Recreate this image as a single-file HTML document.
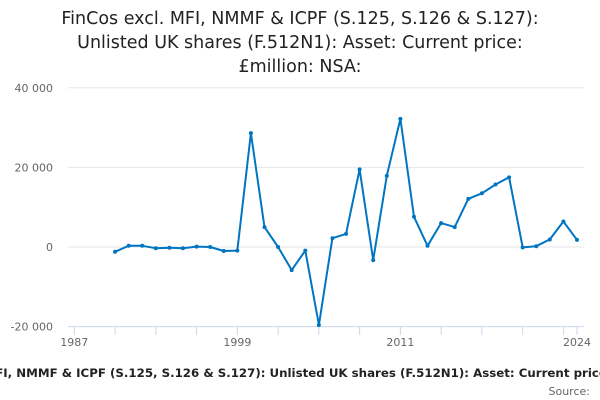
<!DOCTYPE html>
<html><head><meta charset="utf-8"><style>
body{margin:0;background:#fff;}
svg{display:block;font-family:"DejaVu Sans","Liberation Sans",sans-serif;}
</style></head><body>
<svg id="chart" width="600" height="400">
<g font-size="17.5" fill="#222" text-anchor="middle">
<text x="300" y="24">FinCos excl. MFI, NMMF &amp; ICPF (S.125, S.126 &amp; S.127):</text>
<text x="300" y="48">Unlisted UK shares (F.512N1): Asset: Current price:</text>
<text x="300" y="72">£million: NSA:</text>
</g>
<g id="grid"></g>
<g id="yticks"></g>
<g id="xticks"></g>
<path id="line" fill="none" stroke="#0075c2" stroke-width="2" stroke-linejoin="round"></path>
<g id="points"></g>
<text x="305" y="377" text-anchor="middle" font-size="11.8" font-weight="bold" fill="#222">FinCos excl. MFI, NMMF &amp; ICPF (S.125, S.126 &amp; S.127): Unlisted UK shares (F.512N1): Asset: Current price: £million: NSA:</text>
<text x="590" y="395" text-anchor="end" font-size="11" fill="#666">Source:</text>
</svg>
<script>
const years = [1990,1991,1992,1993,1994,1995,1996,1997,1998,1999,2000,2001,2002,2003,2004,2005,2006,2007,2008,2009,2010,2011,2012,2013,2014,2015,2016,2017,2018,2019,2020,2021,2022,2023,2024];
const values = [-1200,300,300,-300,-200,-300,100,0,-1000,-900,28600,5000,0,-5800,-900,-19600,2200,3300,19500,-3300,17900,32200,7600,300,6000,5000,12100,13500,15700,17500,-100,200,1900,6400,1800];
const yTicks = [-20000,0,20000,40000];
const yTickLabels = ["-20 000","0","20 000","40 000"];
const xLabels = [1987,1999,2011,2024];
const NS="http://www.w3.org/2000/svg";
function X(y){return 74.3+(y-1987)*(577-74.3)/37;}
function Y(v){return 247-v*79.6/20000;}
const grid=document.getElementById('grid'), yt=document.getElementById('yticks'), xt=document.getElementById('xticks');
yTicks.forEach((t,i)=>{
  const l=document.createElementNS(NS,'line');
  
  
  l.setAttribute('x1',68);l.setAttribute('x2',584);l.setAttribute('y1',Y(t));l.setAttribute('y2',Y(t));
  l.setAttribute('stroke',t===-20000?'#ccd6eb':'#e6e6e6');l.setAttribute('stroke-width',1);
  grid.appendChild(l);
  const tx=document.createElementNS(NS,'text');
  
  
  tx.setAttribute('x',53);tx.setAttribute('y',Y(t)+4);tx.setAttribute('text-anchor','end');
  tx.setAttribute('font-size','11');tx.setAttribute('fill','#666');tx.textContent=yTickLabels[i];
  yt.appendChild(tx);
});
const tickYears=[];for(let y=1987;y<=2023;y+=3)tickYears.push(y);tickYears.push(2024);
tickYears.forEach(y=>{
  const l=document.createElementNS(NS,'line');
  
  
  l.setAttribute('x1',X(y));l.setAttribute('x2',X(y));l.setAttribute('y1',327);l.setAttribute('y2',335);
  l.setAttribute('stroke','#ccd6eb');xt.appendChild(l);
});
xLabels.forEach(y=>{
  const tx=document.createElementNS(NS,'text');
  
  
  tx.setAttribute('x',X(y));tx.setAttribute('y',346);tx.setAttribute('text-anchor','middle');
  tx.setAttribute('font-size','11');tx.setAttribute('fill','#666');tx.textContent=y;
  xt.appendChild(tx);
});
let d='';const pts=document.getElementById('points');
years.forEach((y,i)=>{
  d+=(i?'L':'M')+X(y).toFixed(1)+' '+Y(values[i]).toFixed(1);
  const c=document.createElementNS(NS,'circle');
  
  
  c.setAttribute('cx',X(y));c.setAttribute('cy',Y(values[i]));c.setAttribute('r',2);c.setAttribute('fill','#0075c2');
  pts.appendChild(c);
});
document.getElementById('line').setAttribute('d',d);
</script>
</body></html>
